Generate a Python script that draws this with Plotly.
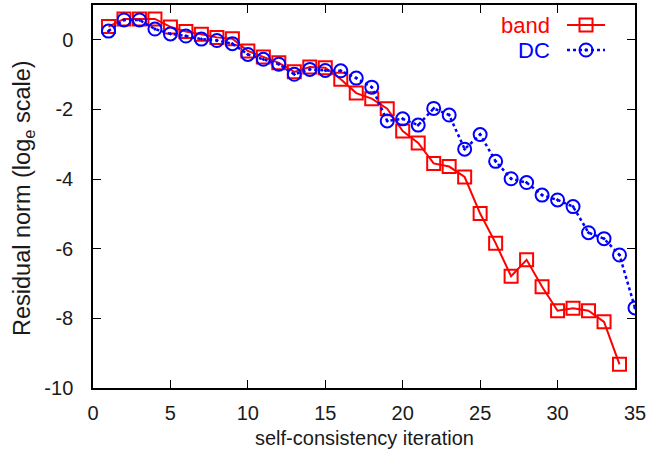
import plotly.graph_objects as go

iter_band = list(range(1, 35))
band = [0.38, 0.6, 0.6, 0.6, 0.37, 0.24, 0.16, 0.07, 0.03, -0.32, -0.49, -0.66, -0.92, -0.78, -0.80,
        -1.13, -1.53, -1.69, -1.98, -2.62, -2.96, -3.55, -3.64, -3.94, -4.99, -5.84, -6.79, -6.32,
        -7.09, -7.78, -7.71, -7.78, -8.10, -9.32]
iter_dc = list(range(1, 36))
dc = [0.25, 0.57, 0.57, 0.31, 0.17, 0.11, 0.02, -0.02, -0.11, -0.42, -0.56, -0.70, -0.99, -0.85, -0.88,
      -0.89, -1.10, -1.36, -2.33, -2.27, -2.45, -1.97, -2.16, -3.14, -2.72, -3.49, -3.99, -4.10,
      -4.46, -4.60, -4.79, -5.54, -5.71, -6.18, -7.70]
x_ticks = [0, 5, 10, 15, 20, 25, 30, 35]
y_ticks = [0, -2, -4, -6, -8, -10]
legend_names = ["band", "DC"]

RED = "#ff0000"
BLUE = "#0000ff"
TXT = "#1a1a1a"
FONT = "Liberation Sans, Arial, sans-serif"

L, R, T, B = 93, 14, 5, 67
W, H = 649, 455
PW, PH = W - L - R, H - T - B

fig = go.Figure()
fig.add_trace(go.Scatter(x=iter_band, y=band, mode="lines+markers", name="band",
                         line=dict(color=RED, width=2),
                         marker=dict(symbol="square-open", size=13, color=RED, line=dict(width=2, color=RED))))
fig.add_trace(go.Scatter(x=iter_dc, y=dc, mode="lines+markers", name="DC",
                         line=dict(color=BLUE, width=2.5, dash="dot"),
                         marker=dict(symbol="circle-open-dot", size=13, color=BLUE, line=dict(width=2, color=BLUE))))

# gnuplot-style key: text at left, sample at right (drawn on an invisible overlay axis)
def px_x(p):
    return (p - L) / PW

def px_y(p):
    return 1 - (p - T) / PH

key_rows = [(legend_names[0], RED, "square-open", "solid", 2, 25),
            (legend_names[1], BLUE, "circle-open-dot", "dot", 2.5, 50)]
for name, col, sym, dash, lw, ypx in key_rows:
    ky = px_y(ypx)
    fig.add_trace(go.Scatter(x=[px_x(567), px_x(605)], y=[ky, ky], mode="lines", xaxis="x2", yaxis="y2",
                             line=dict(color=col, width=lw, dash=dash), showlegend=False, hoverinfo="skip"))
    fig.add_trace(go.Scatter(x=[px_x(586)], y=[ky], mode="markers", xaxis="x2", yaxis="y2",
                             marker=dict(symbol=sym, size=13, color=col, line=dict(width=2, color=col)),
                             showlegend=False, hoverinfo="skip"))
    fig.add_annotation(x=px_x(552), y=ky, xref="paper", yref="paper", text=name, showarrow=False,
                       xanchor="right", yanchor="middle", font=dict(family=FONT, size=22, color=col))

# axis titles
fig.add_annotation(x=px_x(23), y=px_y(198), xref="paper", yref="paper", text="Residual norm (log<sub>e</sub> scale)",
                   textangle=-90, showarrow=False, xanchor="center", yanchor="middle",
                   font=dict(family=FONT, size=23.5, color=TXT))
fig.add_annotation(x=px_x(364), y=px_y(438), xref="paper", yref="paper", text="self-consistency iteration",
                   showarrow=False, xanchor="center", yanchor="middle",
                   font=dict(family=FONT, size=20, color=TXT))

axis_common = dict(showgrid=False, zeroline=False, showline=True, linecolor="black", linewidth=1.5,
                   mirror="ticks", ticks="inside", ticklen=8, tickwidth=1.2, tickcolor="black",
                   automargin=False, tickfont=dict(family=FONT, size=20, color=TXT))

fig.update_layout(
    width=W, height=H,
    margin=dict(l=L, r=R, t=T, b=B),
    paper_bgcolor="white", plot_bgcolor="white",
    showlegend=False,
    font=dict(family=FONT, size=20, color=TXT),
    xaxis=dict(range=[0, 35], tickvals=x_ticks, ticktext=[str(v) for v in x_ticks],
               ticklabelstandoff=6, **axis_common),
    yaxis=dict(range=[-10, 1], tickvals=y_ticks, ticktext=[str(v) for v in y_ticks],
               ticklabelstandoff=14, **axis_common),
    xaxis2=dict(range=[0, 1], overlaying="x", visible=False, fixedrange=True),
    yaxis2=dict(range=[0, 1], overlaying="y", visible=False, fixedrange=True),
)

fig.write_html("out.html", config={"displayModeBar": False},
               post_script="document.body.style.margin='0';document.body.style.overflow='hidden';")
